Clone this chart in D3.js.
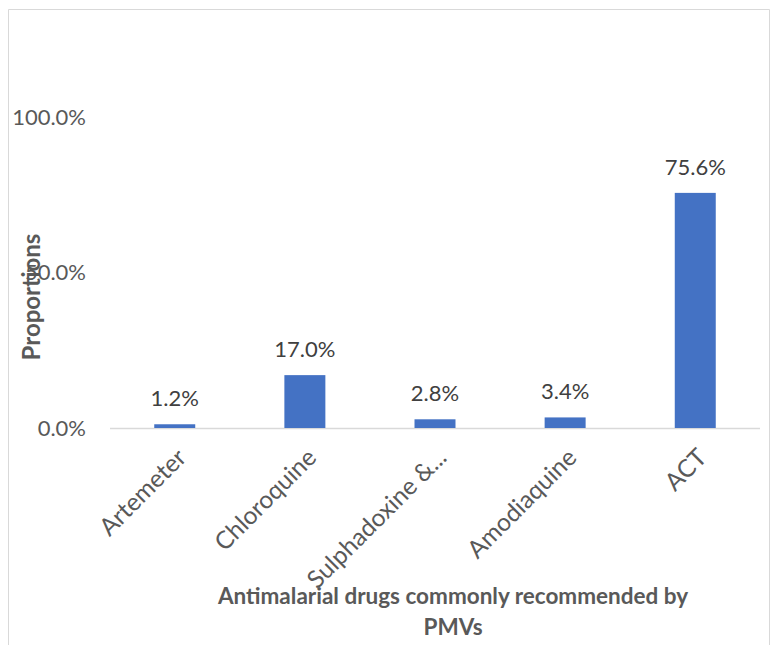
<!DOCTYPE html>
<html>
<head>
<meta charset="utf-8">
<script src="https://cdn.jsdelivr.net/npm/d3@7"></script>
<style>
  body { margin: 0; background: #fff; }
  text { font-family: Lato, "Open Sans", "Noto Sans", sans-serif; }
</style>
</head>
<body>
<svg id="chart" width="773" height="645"></svg>
<script>
var drugs = ["Artemeter", "Chloroquine", "Sulphadoxine &...", "Amodiaquine", "ACT"];
var proportions = [1.2, 17.0, 2.8, 3.4, 75.6];
var yTicks = [0, 50, 100];

var svg = d3.select("#chart");

// outer chart frame (bottom edge cut off in the original)
svg.append("path")
  .attr("d", "M8.5,645 V9.5 H769.5 V645")
  .attr("fill", "none")
  .attr("stroke", "#d9d9d9");

var plotLeft = 110, plotRight = 760, plotTop = 117, plotBottom = 428;

var x = d3.scaleBand().domain(drugs).range([plotLeft, plotRight]).paddingInner(0.685).paddingOuter(0.34);
var y = d3.scaleLinear().domain([0, 100]).range([plotBottom, plotTop]);

// y tick labels
svg.selectAll("text.ytick")
  .data(yTicks).enter().append("text")
  .attr("class", "ytick")
  .attr("x", 86)
  .attr("y", function(d){ return y(d); })
  .attr("dy", "0.35em")
  .attr("text-anchor", "end")
  .attr("font-size", 22)
  .attr("fill", "#595959")
  .text(function(d){ return d.toFixed(1) + "%"; });

// baseline
svg.append("line")
  .attr("x1", plotLeft).attr("x2", plotRight)
  .attr("y1", y(0) + 0.5).attr("y2", y(0) + 0.5)
  .attr("stroke", "#d9d9d9").attr("stroke-width", 1.5);

var rows = drugs.map(function(d, i){ return {name: d, value: proportions[i]}; });

svg.selectAll("rect.bar")
  .data(rows).enter().append("rect")
  .attr("class", "bar")
  .attr("x", function(d){ return x(d.name); })
  .attr("width", x.bandwidth())
  .attr("y", function(d){ return y(d.value); })
  .attr("height", function(d){ return y(0) - y(d.value); })
  .attr("fill", "#4472c4");

svg.selectAll("text.val")
  .data(rows).enter().append("text")
  .attr("class", "val")
  .attr("x", function(d){ return x(d.name) + x.bandwidth() / 2; })
  .attr("y", function(d){ return y(d.value) - 18; })
  .attr("text-anchor", "middle")
  .attr("font-size", 22)
  .attr("fill", "#404040")
  .text(function(d){ return d.value.toFixed(1) + "%"; });

// rotated category labels
svg.selectAll("text.cat")
  .data(drugs).enter().append("text")
  .attr("class", "cat")
  .attr("transform", function(d){
    return "translate(" + (x(d) + x.bandwidth() / 2 + 7) + "," + (plotBottom + 25) + ") rotate(-45)";
  })
  .attr("text-anchor", "end")
  .attr("dy", "0.35em")
  .attr("font-size", 24.5)
  .attr("fill", "#595959")
  .text(function(d){ return d; });

// y axis title
svg.append("text")
  .attr("transform", "translate(40,297) rotate(-90)")
  .attr("text-anchor", "middle")
  .attr("font-size", 24)
  .attr("font-weight", "bold")
  .attr("fill", "#595959")
  .text("Proportions");

// x axis title
var xt = svg.append("text")
  .attr("text-anchor", "middle")
  .attr("font-size", 22.5)
  .attr("font-weight", "bold")
  .attr("fill", "#595959");
xt.append("tspan").attr("x", 453).attr("y", 604).text("Antimalarial drugs commonly recommended by");
xt.append("tspan").attr("x", 453).attr("y", 635).text("PMVs");
</script>
</body>
</html>
